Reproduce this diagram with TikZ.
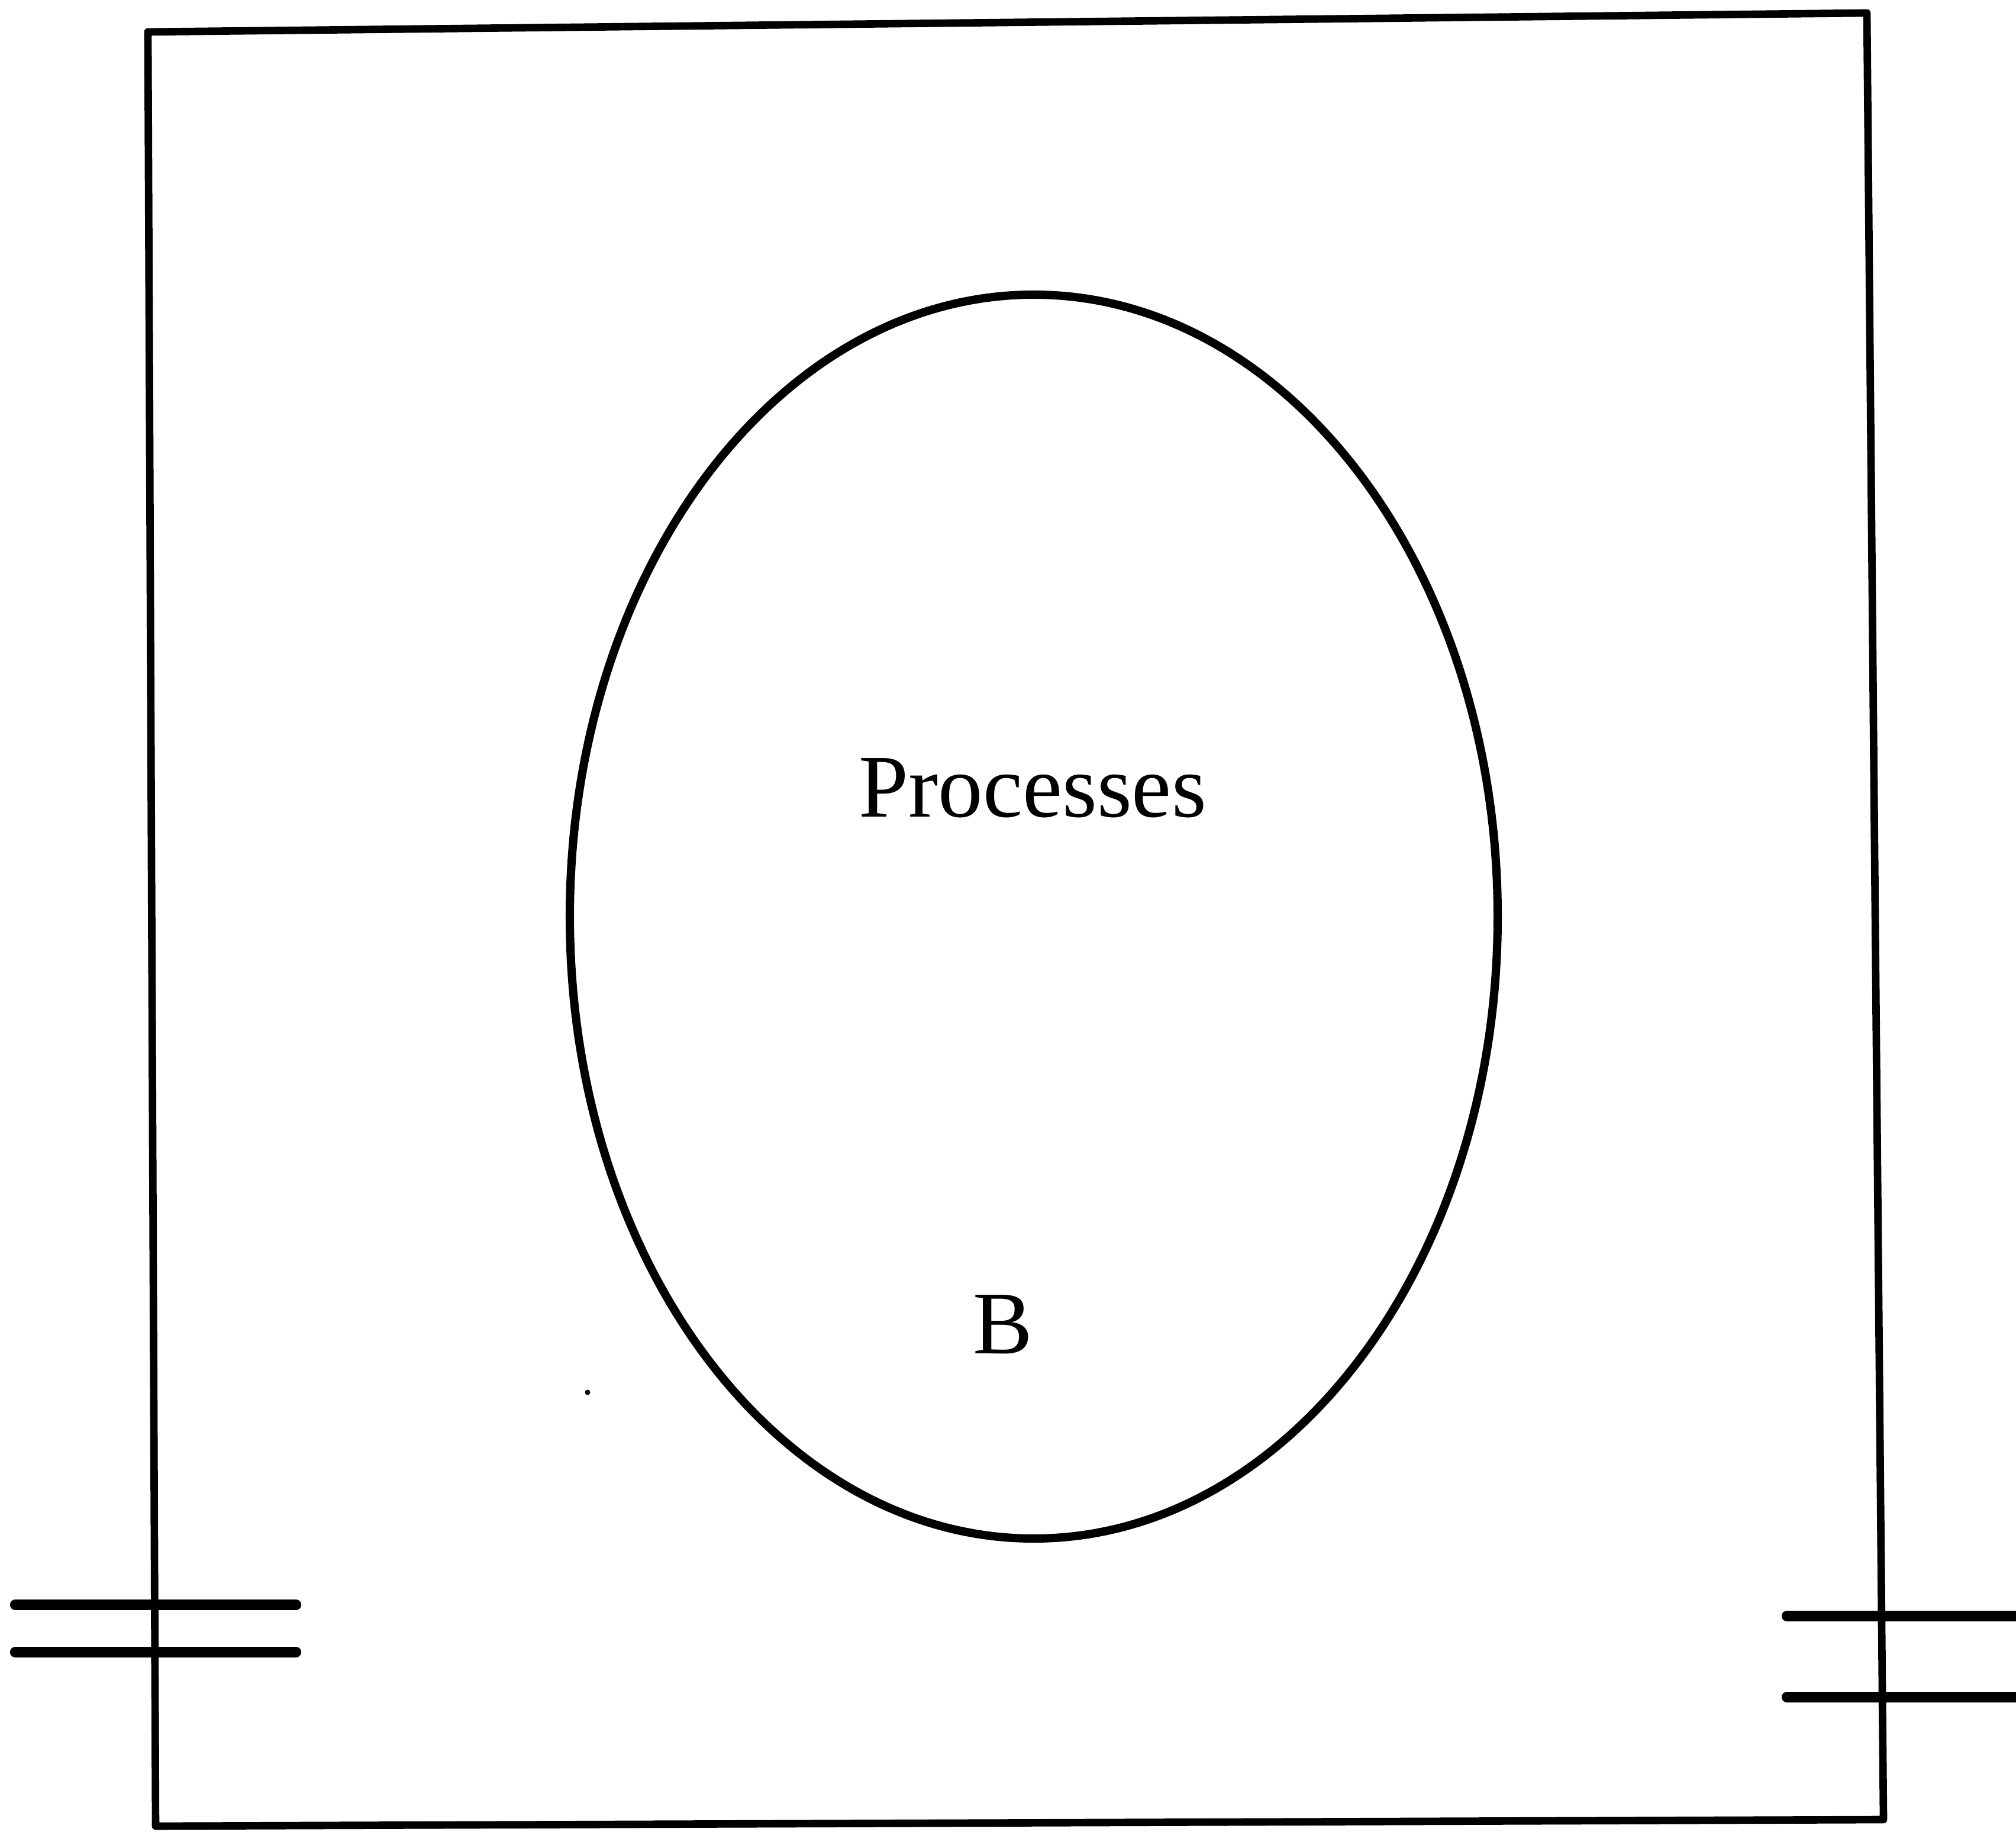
\documentclass[tikz,border=0pt]{standalone}
\usepackage{fontspec}
\setmainfont{Liberation Serif}
\usepackage{tikz}
\usetikzlibrary{calc,positioning}
\tikzset{
  frameline/.style={black,line width=3.6pt,line join=round},
  stubline/.style={black,line width=5.2pt,line cap=round},
  blobline/.style={black,line width=4pt},
  bigtext/.style={font=\fontsize{43}{50}\selectfont,inner sep=0pt}
}
\begin{document}
\begin{tikzpicture}
\useasboundingbox (0,0) rectangle (34.07,31.01);
% outer box (scan is slightly skewed)
\coordinate (TL) at (2.50,30.47);
\coordinate (TR) at (31.55,30.79);
\coordinate (BR) at (31.83,0.26);
\coordinate (BL) at (2.63,0.15);
\draw[frameline] (TL) -- (TR) -- (BR) -- (BL) -- cycle;
% process ellipse
\coordinate (C) at (17.47,15.52);
\draw[blobline] (C) ellipse [x radius=7.84, y radius=10.51];
\node[bigtext] (proc) at (17.45,17.69) {Processes};
\node[bigtext] (bname) at (16.95,8.63) {B};
\fill (9.93,7.48) circle (0.045);
% left stubs
\coordinate (l1a) at (0.26,3.89);
\coordinate (l1b) at (5.00,3.89);
\coordinate (l2a) at (0.26,3.09);
\coordinate (l2b) at (5.00,3.09);
\draw[stubline] (l1a) -- (l1b);
\draw[stubline] (l2a) -- (l2b);
% right stubs
\coordinate (r1a) at (30.20,3.70);
\coordinate (r1b) at (34.07,3.70);
\coordinate (r2a) at (30.20,2.33);
\coordinate (r2b) at (34.07,2.33);
\draw[stubline] (r1a) -- (r1b);
\draw[stubline] (r2a) -- (r2b);
\end{tikzpicture}
\end{document}
